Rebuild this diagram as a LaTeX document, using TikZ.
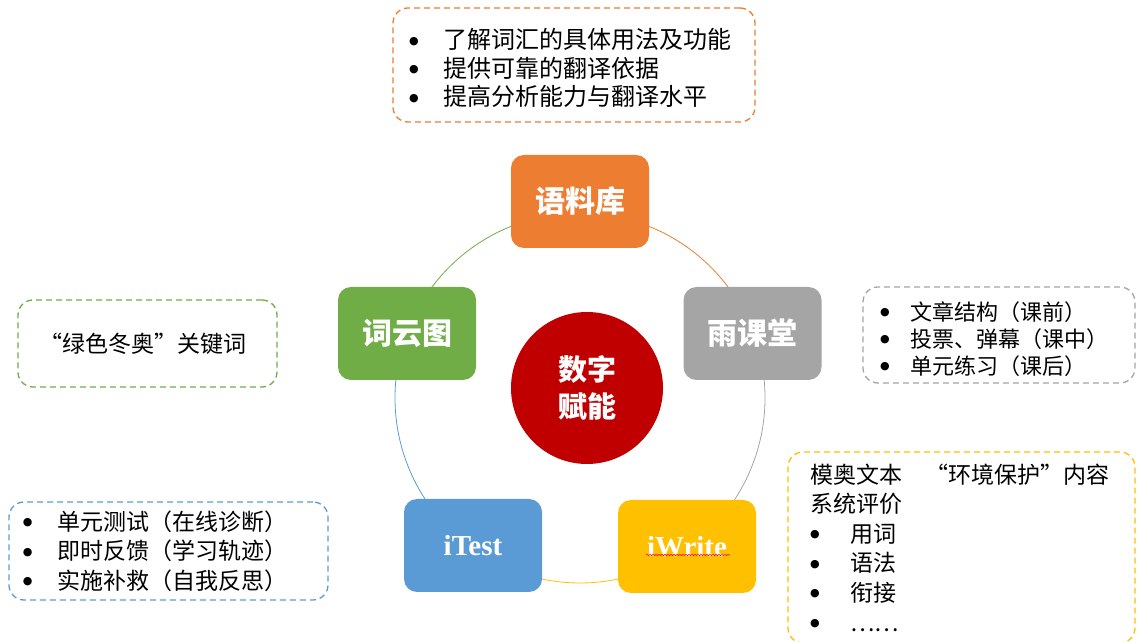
\documentclass[tikz,border=0pt]{standalone}
\usepackage{fontspec}
\setmainfont{Liberation Serif}
\newfontfamily\zh{Noto Sans CJK SC}
\newfontfamily\bulletfont{DejaVu Sans}
\usetikzlibrary{backgrounds,decorations.pathmorphing}

\definecolor{orange1}{HTML}{ED7D31}
\definecolor{gray1}{HTML}{A5A5A5}
\definecolor{gold1}{HTML}{FFC000}
\definecolor{blue1}{HTML}{5B9BD5}
\definecolor{green1}{HTML}{70AD47}
\definecolor{red1}{HTML}{C00000}

\newcommand\dotitem[1][34pt]{\makebox[#1][l]{\raisebox{4.5pt}{\bulletfont\fontsize{11}{11}\selectfont ●}}}
\newcommand\cjkquote[2][.65em]{\makebox[#1][r]{“}#2\makebox[1em][l]{”}}

\begin{document}
\begin{tikzpicture}[x=1pt,y=1pt]

      \useasboundingbox (0,0) rectangle (1137,642);

      \node (0) at (587,254) [circle,fill=red1,minimum size=152pt,text=white,align=center,
        font=\zh\bfseries\fontsize{29}{37}\selectfont] {数字\\赋能};

      \begin{scope}[every node/.style={rectangle,rounded corners=13pt,minimum width=138pt,
          minimum height=93pt,text=white,font=\zh\bfseries\fontsize{30}{36}\selectfont}]
        \node[fill=orange1] (1) at (580,440.5) {语料库};
        \node[fill=gray1]   (2) at (752.5,308.5) {雨课堂};
        \node[fill=gold1,font=\rmfamily\bfseries\fontsize{29}{35}\selectfont] (3) at (687,95.5) {iWrite};
        \node[fill=blue1,font=\rmfamily\bfseries\fontsize{29}{35}\selectfont] (4) at (473,96.5) {iTest};
        \node[fill=green1]  (5) at (407,308.5) {词云图};
      \end{scope}

      \draw[red,line width=.6pt,decorate,decoration={snake,amplitude=.7pt,segment length=3pt}]
        ([shift={(-41pt,-8.5pt)}]3.center) -- ([shift={(43pt,-8.5pt)}]3.center);

      \coordinate (ring) at (580,244);
      \begin{pgfonlayer}{background}
        \begin{scope}[line width=.8pt]
          \draw[orange1] ([shift={(90:185pt)}]ring) arc[start angle=90,end angle=20,radius=185pt];
          \draw[gray1]   ([shift={(20:185pt)}]ring) arc[start angle=20,end angle=-54,radius=185pt];
          \draw[gold1]   ([shift={(-54:185pt)}]ring) arc[start angle=-54,end angle=-126,radius=185pt];
          \draw[blue1]   ([shift={(-126:185pt)}]ring) arc[start angle=-126,end angle=-200,radius=185pt];
          \draw[green1]  ([shift={(160:185pt)}]ring) arc[start angle=160,end angle=90,radius=185pt];
        \end{scope}
      \end{pgfonlayer}

      \begin{scope}[every node/.style={draw,dash pattern=on 6pt off 4pt,line width=1.3pt,
          rounded corners=15pt,align=left,font=\zh\fontsize{23}{29.5}\selectfont}]
        \node[draw=orange1,minimum width=362pt,minimum height=114pt,inner xsep=16pt,text width=330pt,
          font=\zh\fontsize{24}{28.5}\selectfont] (6) at (574,577)
          {\rule{0pt}{27pt}\dotitem 了解词汇的具体用法及功能\\ \dotitem 提供可靠的翻译依据\\ \dotitem 提高分析能力与翻译水平};
        \node[draw=gray1,minimum width=272pt,minimum height=96pt,inner xsep=17pt,text width=238pt,
          font=\zh\fontsize{22}{27}\selectfont] (7) at (999,307)
          {\rule{0pt}{27pt}\dotitem[30pt]文章结构（课前）\\ \dotitem[30pt]投票、弹幕（课中）\\ \dotitem[30pt]单元练习（课后）};
        \node[draw=green1,minimum width=259pt,minimum height=87pt,align=center] (8) at (147.5,298.5)
          {\cjkquote{绿色冬奥}关键词};
        \node[draw=blue1,minimum width=319pt,minimum height=98pt,inner xsep=14pt,text width=291pt] (9) at (168.5,91)
          {\dotitem 单元测试（在线诊断）\\ \dotitem 即时反馈（学习轨迹）\\ \dotitem 实施补救（自我反思）};
        \node[draw=gold1,minimum width=347pt,minimum height=191pt,inner xsep=22pt,text width=303pt,
          font=\zh\fontsize{23}{29.6}\selectfont] (10) at (961.5,94.5)
          {模奥文本　\cjkquote[1em]{环境保护}内容\\ 系统评价\\ \dotitem[40pt]用词\\ \dotitem[40pt]语法\\
           \dotitem[40pt]衔接\\ \dotitem[40pt]……};
      \end{scope}

    \end{tikzpicture}
\end{document}
